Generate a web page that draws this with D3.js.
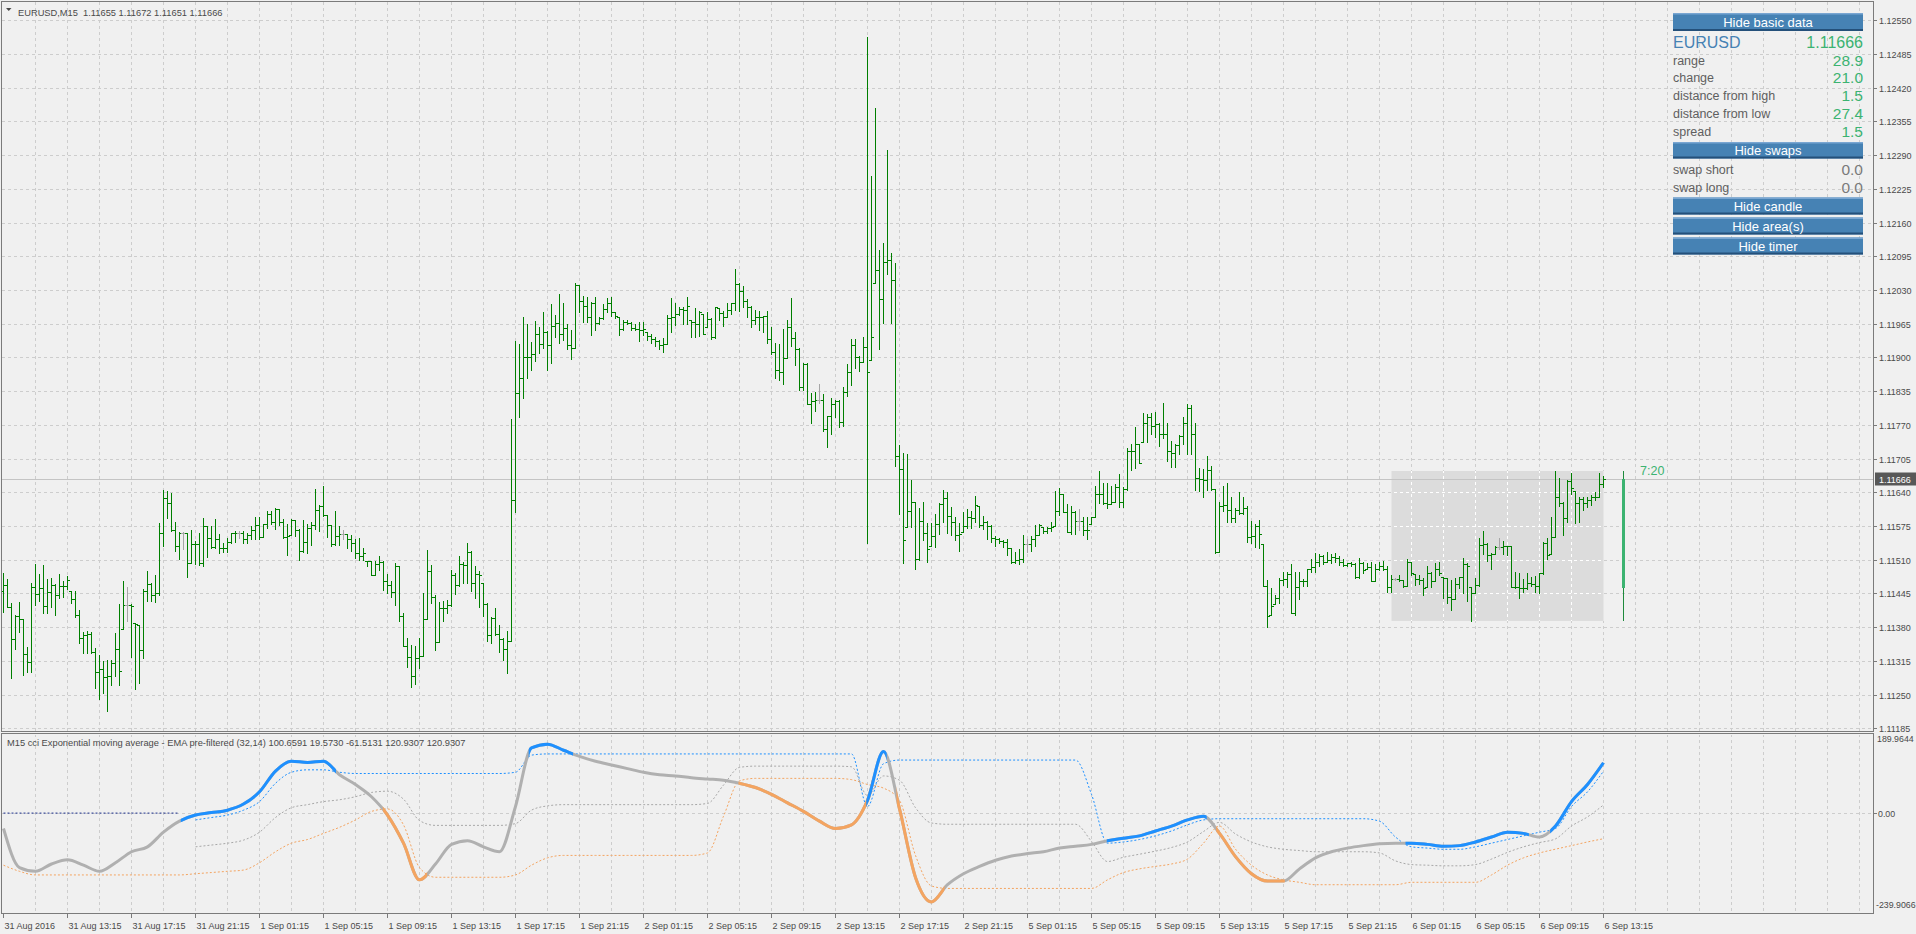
<!DOCTYPE html>
<html><head><meta charset="utf-8">
<script src="https://cdnjs.cloudflare.com/ajax/libs/d3/7.8.5/d3.min.js"></script>
<style>
html,body{margin:0;padding:0;background:#f0f0f0;overflow:hidden}
svg{display:block}
text{font-family:"Liberation Sans",Arial,sans-serif}
</style></head><body>
<svg id="chart" width="1916" height="934"></svg>
<script>
// ---------------- DATA ----------------
const symbolTitle = "EURUSD,M15  1.11655 1.11672 1.11651 1.11666";
const indicatorTitle = "M15 cci Exponential moving average - EMA pre-filtered (32,14) 100.6591 19.5730 -61.5131 120.9307 120.9307";
const open0 = 1.11450;
const high = [
1.11484,1.11472,1.11427,1.11404,1.11428,1.11396,1.11342,1.11465,1.11501,1.11483,
1.11499,1.11472,1.11475,1.11463,1.11483,1.11468,1.11479,1.11450,1.11450,1.11414,
1.11371,1.11372,1.11371,1.11340,1.11327,1.11314,1.11317,1.11317,1.11369,1.11425,
1.11468,1.11457,1.11425,1.11388,1.11385,1.11454,1.11489,1.11465,1.11480,1.11581,
1.11645,1.11642,1.11639,1.11583,1.11564,1.11564,1.11562,1.11568,1.11546,1.11562,
1.11591,1.11575,1.11575,1.11589,1.11560,1.11542,1.11552,1.11562,1.11565,1.11566,
1.11566,1.11562,1.11575,1.11593,1.11593,1.11579,1.11604,1.11604,1.11610,1.11608,
1.11589,1.11578,1.11589,1.11587,1.11570,1.11586,1.11578,1.11583,1.11647,1.11616,
1.11653,1.11597,1.11577,1.11604,1.11575,1.11568,1.11560,1.11557,1.11549,1.11551,
1.11532,1.11508,1.11508,1.11508,1.11517,1.11507,1.11483,1.11468,1.11504,1.11497,
1.11407,1.11359,1.11346,1.11344,1.11359,1.11446,1.11528,1.11499,1.11441,1.11428,
1.11430,1.11432,1.11490,1.11484,1.11517,1.11506,1.11542,1.11526,1.11497,1.11488,
1.11466,1.11426,1.11400,1.11416,1.11385,1.11360,1.11373,1.11781,1.11931,1.11926,
1.11977,1.11964,1.11929,1.11970,1.11959,1.11987,1.11950,1.12003,1.11982,1.12022,
1.12004,1.11965,1.11953,1.12044,1.12039,1.12018,1.12017,1.12006,1.12017,1.11977,
1.12003,1.12014,1.12017,1.11987,1.11977,1.11973,1.11972,1.11969,1.11964,1.11969,
1.11969,1.11949,1.11946,1.11939,1.11933,1.11938,1.11982,1.12014,1.12004,1.11998,
1.11998,1.12016,1.11972,1.11996,1.11989,1.11983,1.11988,1.11975,1.11998,1.11995,
1.11989,1.12005,1.12004,1.12071,1.12043,1.12037,1.12012,1.11999,1.11992,1.11989,
1.11980,1.11989,1.11959,1.11927,1.11926,1.11954,1.11973,1.12014,1.11949,1.11919,
1.11890,1.11890,1.11832,1.11834,1.11849,1.11829,1.11787,1.11821,1.11818,1.11818,
1.11842,1.11887,1.11935,1.11935,1.11902,1.11940,1.12517,1.12250,1.12381,1.12107,
1.12120,1.12300,1.12102,1.12081,1.11732,1.11715,1.11714,1.11664,1.11622,1.11609,
1.11622,1.11580,1.11580,1.11599,1.11619,1.11644,1.11641,1.11612,1.11593,1.11580,
1.11601,1.11607,1.11604,1.11633,1.11613,1.11594,1.11585,1.11576,1.11556,1.11551,
1.11548,1.11549,1.11532,1.11525,1.11531,1.11558,1.11549,1.11556,1.11577,1.11578,
1.11574,1.11574,1.11582,1.11643,1.11649,1.11637,1.11617,1.11613,1.11603,1.11608,
1.11592,1.11593,1.11593,1.11652,1.11681,1.11658,1.11657,1.11652,1.11656,1.11676,
1.11651,1.11726,1.11734,1.11765,1.11734,1.11792,1.11790,1.11792,1.11794,1.11773,
1.11813,1.11773,1.11739,1.11734,1.11750,1.11785,1.11811,1.11808,1.11773,1.11686,
1.11684,1.11710,1.11691,1.11646,1.11622,1.11652,1.11658,1.11630,1.11609,1.11641,
1.11630,1.11614,1.11585,1.11579,1.11586,1.11540,1.11471,1.11455,1.11441,1.11474,
1.11486,1.11487,1.11502,1.11486,1.11487,1.11473,1.11493,1.11511,1.11522,1.11521,
1.11519,1.11525,1.11521,1.11523,1.11517,1.11511,1.11504,1.11505,1.11503,1.11513,
1.11506,1.11503,1.11505,1.11502,1.11506,1.11507,1.11498,1.11480,1.11475,1.11480,
1.11471,1.11511,1.11506,1.11482,1.11480,1.11474,1.11497,1.11486,1.11504,1.11506,
1.11477,1.11474,1.11471,1.11475,1.11477,1.11513,1.11503,1.11458,1.11474,1.11551,
1.11565,1.11543,1.11522,1.11537,1.11552,1.11546,1.11537,1.11536,1.11486,1.11484,
1.11473,1.11484,1.11477,1.11479,1.11484,1.11545,1.11551,1.11592,1.11681,1.11667,
1.11622,1.11664,1.11678,1.11643,1.11631,1.11630,1.11631,1.11635,1.11641,1.11678,
1.11672];
const low = [
1.11410,1.11419,1.11282,1.11338,1.11371,1.11287,1.11293,1.11293,1.11423,1.11430,
1.11408,1.11408,1.11419,1.11403,1.11436,1.11439,1.11454,1.11427,1.11399,1.11349,
1.11330,1.11330,1.11330,1.11262,1.11241,1.11254,1.11219,1.11269,1.11285,1.11269,
1.11377,1.11391,1.11323,1.11260,1.11272,1.11320,1.11430,1.11430,1.11428,1.11441,
1.11536,1.11591,1.11566,1.11526,1.11512,1.11530,1.11476,1.11504,1.11501,1.11499,
1.11497,1.11515,1.11532,1.11532,1.11523,1.11525,1.11525,1.11542,1.11544,1.11551,
1.11542,1.11542,1.11549,1.11549,1.11550,1.11554,1.11571,1.11578,1.11570,1.11577,
1.11552,1.11520,1.11557,1.11555,1.11509,1.11525,1.11523,1.11538,1.11570,1.11565,
1.11594,1.11553,1.11536,1.11539,1.11539,1.11550,1.11533,1.11526,1.11513,1.11510,
1.11510,1.11497,1.11480,1.11480,1.11491,1.11451,1.11446,1.11438,1.11423,1.11391,
1.11343,1.11304,1.11264,1.11270,1.11301,1.11325,1.11396,1.11427,1.11336,1.11352,
1.11391,1.11408,1.11420,1.11443,1.11459,1.11465,1.11465,1.11449,1.11436,1.11418,
1.11402,1.11354,1.11349,1.11365,1.11333,1.11317,1.11291,1.11354,1.11601,1.11786,
1.11822,1.11861,1.11876,1.11894,1.11909,1.11919,1.11876,1.11890,1.11940,1.11928,
1.11933,1.11916,1.11897,1.11919,1.11988,1.11969,1.11969,1.11944,1.11953,1.11964,
1.11974,1.11988,1.11980,1.11976,1.11944,1.11953,1.11964,1.11953,1.11953,1.11931,
1.11944,1.11933,1.11927,1.11922,1.11916,1.11910,1.11925,1.11949,1.11962,1.11982,
1.11964,1.11965,1.11940,1.11940,1.11941,1.11946,1.11958,1.11935,1.11937,1.11972,
1.11961,1.11977,1.11983,1.11991,1.11990,1.11998,1.11977,1.11959,1.11964,1.11953,
1.11948,1.11928,1.11906,1.11860,1.11856,1.11849,1.11898,1.11922,1.11885,1.11838,
1.11838,1.11810,1.11774,1.11797,1.11813,1.11758,1.11728,1.11753,1.11786,1.11766,
1.11768,1.11826,1.11847,1.11880,1.11874,1.11892,1.11543,1.11895,1.12043,1.11917,
1.11967,1.12060,1.11967,1.11691,1.11598,1.11503,1.11574,1.11574,1.11493,1.11509,
1.11548,1.11506,1.11536,1.11535,1.11559,1.11583,1.11561,1.11558,1.11548,1.11527,
1.11564,1.11572,1.11572,1.11583,1.11574,1.11569,1.11550,1.11545,1.11537,1.11543,
1.11535,1.11520,1.11503,1.11503,1.11501,1.11506,1.11525,1.11527,1.11537,1.11558,
1.11561,1.11562,1.11566,1.11575,1.11596,1.11601,1.11564,1.11560,1.11560,1.11567,
1.11558,1.11549,1.11579,1.11592,1.11619,1.11617,1.11609,1.11617,1.11622,1.11612,
1.11612,1.11644,1.11682,1.11686,1.11696,1.11736,1.11737,1.11753,1.11747,1.11730,
1.11744,1.11701,1.11689,1.11689,1.11714,1.11734,1.11714,1.11714,1.11644,1.11642,
1.11631,1.11644,1.11644,1.11523,1.11525,1.11603,1.11583,1.11583,1.11583,1.11599,
1.11599,1.11545,1.11543,1.11535,1.11532,1.11459,1.11380,1.11403,1.11425,1.11426,
1.11461,1.11458,1.11407,1.11403,1.11434,1.11459,1.11459,1.11487,1.11487,1.11497,
1.11502,1.11506,1.11503,1.11506,1.11500,1.11497,1.11497,1.11497,1.11475,1.11475,
1.11485,1.11493,1.11468,1.11468,1.11490,1.11491,1.11448,1.11447,1.11471,1.11468,
1.11458,1.11459,1.11480,1.11461,1.11464,1.11441,1.11458,1.11458,1.11468,1.11480,
1.11437,1.11426,1.11414,1.11434,1.11456,1.11445,1.11431,1.11392,1.11445,1.11460,
1.11521,1.11508,1.11493,1.11521,1.11530,1.11521,1.11519,1.11457,1.11455,1.11437,
1.11448,1.11454,1.11459,1.11448,1.11445,1.11482,1.11511,1.11521,1.11553,1.11613,
1.11558,1.11583,1.11637,1.11581,1.11583,1.11606,1.11612,1.11615,1.11625,1.11631,
1.11651];
const close = [
1.11462,1.11419,1.11358,1.11402,1.11396,1.11328,1.11313,1.11457,1.11443,1.11455,
1.11420,1.11448,1.11461,1.11441,1.11459,1.11460,1.11470,1.11434,1.11404,1.11359,
1.11364,1.11366,1.11333,1.11293,1.11300,1.11284,1.11285,1.11311,1.11338,1.11295,
1.11423,1.11423,1.11420,1.11386,1.11335,1.11450,1.11464,1.11441,1.11445,1.11562,
1.11629,1.11620,1.11568,1.11536,1.11562,1.11562,1.11504,1.11541,1.11540,1.11504,
1.11575,1.11552,1.11535,1.11549,1.11532,1.11533,1.11544,1.11561,1.11562,1.11562,
1.11549,1.11557,1.11568,1.11577,1.11554,1.11579,1.11599,1.11583,1.11607,1.11582,
1.11554,1.11555,1.11587,1.11568,1.11526,1.11544,1.11571,1.11577,1.11605,1.11613,
1.11597,1.11577,1.11541,1.11555,1.11560,1.11560,1.11549,1.11542,1.11523,1.11517,
1.11523,1.11507,1.11481,1.11501,1.11506,1.11468,1.11462,1.11448,1.11497,1.11402,
1.11344,1.11323,1.11285,1.11320,1.11325,1.11396,1.11488,1.11439,1.11351,1.11417,
1.11416,1.11422,1.11481,1.11462,1.11502,1.11500,1.11525,1.11465,1.11483,1.11480,
1.11425,1.11365,1.11397,1.11366,1.11358,1.11338,1.11354,1.11626,1.11831,1.11860,
1.11900,1.11901,1.11906,1.11946,1.11925,1.11948,1.11924,1.11960,1.11967,1.11945,
1.11956,1.11924,1.11919,1.12039,1.12009,1.11999,1.11978,1.12005,1.11967,1.11975,
1.11994,1.12004,1.11988,1.11980,1.11955,1.11969,1.11967,1.11956,1.11954,1.11953,
1.11954,1.11942,1.11935,1.11931,1.11924,1.11925,1.11975,1.11978,1.11983,1.11993,
1.11992,1.11999,1.11969,1.11964,1.11988,1.11946,1.11974,1.11939,1.11997,1.11986,
1.11978,1.11991,1.12004,1.12041,1.12028,1.12009,1.11998,1.11973,1.11977,1.11978,
1.11979,1.11935,1.11911,1.11876,1.11871,1.11899,1.11959,1.11937,1.11917,1.11843,
1.11888,1.11811,1.11816,1.11818,1.11818,1.11762,1.11787,1.11811,1.11816,1.11776,
1.11834,1.11872,1.11924,1.11900,1.11892,1.11920,1.11872,1.11939,1.12068,1.12012,
1.12083,1.12088,1.12050,1.11710,1.11684,1.11548,1.11604,1.11622,1.11511,1.11585,
1.11562,1.11530,1.11556,1.11578,1.11618,1.11628,1.11594,1.11582,1.11558,1.11559,
1.11575,1.11592,1.11591,1.11615,1.11577,1.11583,1.11575,1.11552,1.11550,1.11547,
1.11545,1.11532,1.11506,1.11509,1.11511,1.11541,1.11541,1.11549,1.11558,1.11576,
1.11566,1.11572,1.11574,1.11603,1.11637,1.11601,1.11564,1.11601,1.11585,1.11585,
1.11567,1.11568,1.11592,1.11637,1.11636,1.11619,1.11617,1.11622,1.11651,1.11622,
1.11646,1.11719,1.11720,1.11734,1.11696,1.11773,1.11786,1.11768,1.11771,1.11752,
1.11753,1.11719,1.11716,1.11731,1.11748,1.11773,1.11802,1.11752,1.11667,1.11666,
1.11664,1.11683,1.11646,1.11525,1.11614,1.11615,1.11606,1.11590,1.11605,1.11600,
1.11609,1.11554,1.11555,1.11575,1.11560,1.11460,1.11401,1.11421,1.11436,1.11471,
1.11472,1.11482,1.11407,1.11457,1.11469,1.11468,1.11493,1.11495,1.11506,1.11518,
1.11506,1.11509,1.11516,1.11513,1.11506,1.11500,1.11503,1.11502,1.11476,1.11504,
1.11490,1.11495,1.11469,1.11493,1.11497,1.11493,1.11457,1.11473,1.11473,1.11471,
1.11460,1.11505,1.11485,1.11473,1.11471,1.11456,1.11484,1.11469,1.11493,1.11484,
1.11474,1.11439,1.11434,1.11464,1.11476,1.11502,1.11498,1.11445,1.11461,1.11538,
1.11540,1.11519,1.11521,1.11535,1.11535,1.11537,1.11536,1.11458,1.11457,1.11455,
1.11456,1.11466,1.11464,1.11460,1.11484,1.11542,1.11520,1.11554,1.11630,1.11620,
1.11590,1.11662,1.11648,1.11620,1.11627,1.11620,1.11626,1.11630,1.11631,1.11655,
1.11666];

const timeLabels = ["31 Aug 2016","31 Aug 13:15","31 Aug 17:15","31 Aug 21:15","1 Sep 01:15","1 Sep 05:15","1 Sep 09:15","1 Sep 13:15","1 Sep 17:15","1 Sep 21:15","2 Sep 01:15","2 Sep 05:15","2 Sep 09:15","2 Sep 13:15","2 Sep 17:15","2 Sep 21:15","5 Sep 01:15","5 Sep 05:15","5 Sep 09:15","5 Sep 13:15","5 Sep 17:15","5 Sep 21:15","6 Sep 01:15","6 Sep 05:15","6 Sep 09:15","6 Sep 13:15"];
const timeLabelBars = [0,16,32,48,64,80,96,112,128,144,160,176,192,208,224,240,256,272,288,304,320,336,352,368,384,400];
const priceTicks = ["1.12550","1.12485","1.12420","1.12355","1.12290","1.12225","1.12160","1.12095","1.12030","1.11965","1.11900","1.11835","1.11770","1.11705","1.11640","1.11575","1.11510","1.11445","1.11380","1.11315","1.11250","1.11185"];
const lastPrice = 1.11666;

// daily candle, day area, timer
const dayOHLC = {open:1.11456, high:1.11681, low:1.11392, close:1.11666};
const dayStartBar = 347;
const timerText = "7:20";

// info panel
const panelSymbol = "EURUSD", panelPrice = "1.11666";
const panelLabels = ["range","change","distance from high","distance from low","spread"];
const panelValues = ["28.9","21.0","1.5","27.4","1.5"];
const swapLabels = ["swap short","swap long"];
const swapValues = ["0.0","0.0"];
const buttonLabels = ["Hide basic data","Hide swaps","Hide candle","Hide area(s)","Hide timer"];

// indicator (sampled every 4 bars)
const indMax = 189.9644, indMin = -239.9066;
const indTicks = ["189.9644","0.00","-239.9066"];
const indBars = d3.range(0, 401, 4);
const cci = [-37.0,-130.9,-139.8,-122.2,-111.9,-125.1,-139.8,-119.2,-92.8,-81.1,-45.8,-19.4,
 -4.7,1.2,7.0,21.7,51.1,101.0,124.5,121.6,124.5,92.2,68.7,39.3,-4.7,-72.2,-160.3,-122.2,-75.1,-66.3,-81.1,-92.8,
 16.0,156.8,165.6,150.9,136.2,124.5,115.7,106.9,98.1,92.2,89.3,84.9,81.9,79.0,71.6,61.4,45.2,24.7,4.1,-19.4,-37.0,-28.2,
 30.5,148.0,10.0,-154.4,-213.2,-172.0,-145.6,-128.0,-113.3,-103.1,-97.2,-92.8,-84.0,-79.6,-75.1,-66.3,-60.5,-54.6,-42.9,-31.1,-16.4,-7.6,
 -48.7,-104.5,-145.6,-163.2,-163.2,-133.9,-107.5,-92.8,-84.0,-78.1,-73.7,-72.2,-72.2,-75.1,-79.6,-78.1,-69.3,-57.5,-45.8,-48.7,-57.5,-31.1,27.6,68.7,120.9307];
const upperLevel = [0,0,0,0,0,0,0,0,0,0,0,0,
 -16.4,-10.6,-4.7,7.0,27.6,71.6,98.1,103.9,103.9,98.1,
 95.1,95.1,95.1,95.1,95.1,95.1,95.1,95.1,95.1,95.1,
 98.1,139.2,
 142.1,142.1,142.1,142.1,142.1,142.1,142.1,142.1,142.1,142.1,142.1,142.1,142.1,142.1,142.1,142.1,142.1,142.1,142.1,142.1,
 15.9,118.6,
 127.4,127.4,127.4,127.4,127.4,127.4,127.4,127.4,127.4,127.4,127.4,127.4,
 45.2,-72.2,-69.3,-63.4,-54.6,-42.9,-28.2,-16.4,
 -13.5,-13.5,-13.5,-13.5,-13.5,-13.5,-13.5,-13.5,-13.5,-13.5,
 -19.4,-57.5,-81.0,-84.0,-86.9,-86.9,-81.0,-72.2,-63.4,-54.6,-45.8,-37.0,15.9,51.1,100.6591];
const lowerLevel = [-125.1,-139.8,-148.5,-148.5,-148.5,-148.5,-148.5,-148.5,-148.5,-148.5,-148.5,-148.5,
 -145.6,-142.7,-139.8,-136.8,-119.2,-92.8,-72.2,-63.4,-48.7,-34.1,-16.4,4.1,10.0,-28.2,-130.9,
 -154.1,-154.1,-154.1,-154.1,-154.1,
 -148.5,-125.1,-107.5,
 -101.6,-101.6,-101.6,-101.6,-101.6,-101.6,-101.6,-101.6,-101.6,
 -95.7,-7.6,77.5,
 83.4,83.4,83.4,83.4,83.4,83.4,
 80.4,68.7,60.0,30.5,-101.6,-175.0,
 -180.9,-180.9,-180.9,-180.9,-180.9,-180.9,-180.9,-180.9,-180.9,-180.9,
 -160.3,-142.7,-133.9,-128.0,-122.2,-110.4,-72.2,-31.1,-86.6,-125.1,-148.5,-160.3,-166.2,
 -172.0,-172.0,-172.0,-172.0,-172.0,-172.0,
 -166.2,-166.2,-166.2,-166.2,-166.2,
 -148.5,-125.1,-107.5,-95.7,-86.6,-78.1,-69.3,-61.5131];
const middleLevel = [null,null,null,null,null,null,null,null,null,null,null,null,
 -81.0,-76.7,-72.3,-64.9,-45.8,-10.6,13.0,20.3,27.6,32.0,39.4,49.6,52.6,33.5,-17.9,-29.5,-29.5,-29.5,-29.5,-29.5,-25.2,7.1,17.3,
 20.3,20.3,20.3,20.3,20.3,20.3,20.3,20.3,20.3,
 23.2,67.3,109.8,
 112.8,112.8,112.8,112.8,112.8,112.8,
 111.3,42.3,89.3,79.0,12.9,-23.8,
 -26.8,-26.8,-26.8,-26.8,-26.8,-26.8,-26.8,-26.8,-26.8,
 -67.9,-116.3,-106.0,-98.7,-91.3,-82.6,-69.3,-44.3,-22.3,-50.1,-69.3,-81.0,-86.9,-89.9,
 -92.8,-92.8,-92.8,-92.8,
 -95.7,-114.8,-123.6,-125.1,-126.6,-126.6,-123.6,-110.4,-94.3,-81.1,-70.8,-61.8,-31.1,-9.1,19.573];
const levelsStart = 12; // first sample where the floating levels are formed

// ---------------- DRAW ----------------
const svg = d3.select('#chart');
const PR = 1873, MT = 1, MB = 731, IT = 734, IB = 913;
const x = d3.scaleLinear().domain([0, 400]).range([3.5, 1603.5]);
const y = d3.scaleLinear().domain([1.11185, 1.12550]).range([728.3, 20.2]);
const yi = d3.scaleLinear().domain([indMin, indMax]).range([IB, IT]);
const GRID = '#cdcdcd', AX = '#4a4a4a', FRAME = '#7b7b7b';

svg.append('rect').attr('width',1916).attr('height',934).attr('fill','#f0f0f0');
const defs = svg.append('defs');
defs.append('clipPath').attr('id','clipMain').append('rect').attr('x',2).attr('y',2).attr('width',PR-2).attr('height',MB-2);
defs.append('clipPath').attr('id','clipInd').append('rect').attr('x',2).attr('y',IT+1).attr('width',PR-2).attr('height',IB-IT-1);
const dayX0 = x(dayStartBar), dayX1 = x(400);
defs.append('clipPath').attr('id','clipDay').append('rect').attr('x',dayX0).attr('y',y(dayOHLC.high)).attr('width',dayX1-dayX0).attr('height',y(dayOHLC.low)-y(dayOHLC.high));

// day area rectangle (background)
svg.append('rect').attr('x',dayX0).attr('y',y(dayOHLC.high)).attr('width',dayX1-dayX0)
  .attr('height',y(dayOHLC.low)-y(dayOHLC.high)).attr('fill','#dcdcdc');

const gridBars = d3.range(8, 470, 8).filter(i => x(i) < PR);
function drawGrid(g, color){
  g.selectAll('line.v').data(gridBars).join('line').attr('class','v')
    .attr('x1',d=>Math.round(x(d)-0.5)+0.5).attr('x2',d=>Math.round(x(d)-0.5)+0.5)
    .attr('y1',MT+1).attr('y2',MB).attr('stroke',color).attr('stroke-dasharray','3,3');
  g.selectAll('line.h').data(priceTicks).join('line').attr('class','h')
    .attr('x1',2).attr('x2',PR).attr('y1',d=>Math.round(y(+d))+0.5).attr('y2',d=>Math.round(y(+d))+0.5)
    .attr('stroke',color).attr('stroke-dasharray','3,3');
}
const gMain = svg.append('g').attr('clip-path','url(#clipMain)').attr('shape-rendering','crispEdges');
drawGrid(gMain, GRID);
drawGrid(svg.append('g').attr('clip-path','url(#clipDay)').attr('shape-rendering','crispEdges'), '#ffffff');

// current price line
svg.append('line').attr('x1',2).attr('x2',PR).attr('y1',Math.round(y(lastPrice))+0.5).attr('y2',Math.round(y(lastPrice))+0.5)
  .attr('stroke','#c4c4c4').attr('shape-rendering','crispEdges');

// OHLC bars
const gBars = svg.append('g').attr('clip-path','url(#clipMain)').attr('shape-rendering','crispEdges');
close.forEach((c, i) => {
  const o = i === 0 ? open0 : close[i-1];
  const h = high[i], l = low[i];
  const col = Math.abs(o - c) < 5e-6 ? '#a6a6a6' : '#007f00';
  const cx = Math.round(x(i) - 0.5);
  const yh = Math.round(y(h)), yl = Math.round(y(l));
  gBars.append('rect').attr('x',cx).attr('y',yh).attr('width',1).attr('height',Math.max(1,yl-yh+1)).attr('fill',col);
  const yo = Math.min(yl, Math.max(yh, Math.round(y(o))));
  const yc = Math.min(yl, Math.max(yh, Math.round(y(c))));
  gBars.append('rect').attr('x',cx-2).attr('y',yo).attr('width',2).attr('height',1).attr('fill',col);
  gBars.append('rect').attr('x',cx+1).attr('y',yc).attr('width',2).attr('height',1).attr('fill',col);
});

// daily candle
const candleBar = 405;
const ccx = Math.round(x(candleBar) - 0.5);
svg.append('rect').attr('x',ccx).attr('y',Math.round(y(dayOHLC.high))).attr('width',1)
  .attr('height',Math.round(y(dayOHLC.low))-Math.round(y(dayOHLC.high))).attr('fill','#1e8a3c').attr('shape-rendering','crispEdges');
svg.append('rect').attr('x',ccx-1).attr('y',Math.round(y(dayOHLC.close))).attr('width',3)
  .attr('height',Math.round(y(dayOHLC.open))-Math.round(y(dayOHLC.close))).attr('fill','#3cb371').attr('shape-rendering','crispEdges');
svg.append('text').attr('x',ccx+17).attr('y',y(dayOHLC.high)+4.5).attr('font-size',12.5).attr('fill','#3cb371').text(timerText);

// frames
const frame = svg.append('g').attr('fill','none').attr('stroke',FRAME).attr('shape-rendering','crispEdges');
frame.append('rect').attr('x',1.5).attr('y',1.5).attr('width',PR-1.5).attr('height',MB-1.5);
frame.append('rect').attr('x',1.5).attr('y',IT-0.5).attr('width',PR-1.5).attr('height',IB-IT+0.5);

// price axis labels
const pAx = svg.append('g').attr('font-size',9).attr('fill',AX);
priceTicks.forEach(t => {
  const yy = Math.round(y(+t)) + 0.5;
  pAx.append('line').attr('x1',PR).attr('x2',PR+4).attr('y1',yy).attr('y2',yy).attr('stroke',FRAME).attr('shape-rendering','crispEdges');
  pAx.append('text').attr('x',PR+6).attr('y',yy+3.3).text(t);
});
// current price box
const lpy = Math.round(y(lastPrice)) + 0.5;
svg.append('rect').attr('x',PR+2).attr('y',lpy-7).attr('width',1916-PR-2).attr('height',13).attr('fill','#585858');
svg.append('text').attr('x',PR+6).attr('y',lpy+3.3).attr('font-size',9).attr('fill','#ffffff').text(lastPrice.toFixed(5));

// header
svg.append('path').attr('d','M6,8 L11.5,8 L8.75,11 Z').attr('fill','#4a4a4a');
svg.append('text').attr('x',18).attr('y',15.5).attr('font-size',9.3).attr('fill',AX).style('white-space','pre').text(symbolTitle);

// ---------- indicator window ----------
const gInd = svg.append('g').attr('clip-path','url(#clipInd)');
const gIndGrid = gInd.append('g').attr('shape-rendering','crispEdges');
gIndGrid.selectAll('line.v').data(gridBars).join('line')
  .attr('x1',d=>Math.round(x(d)-0.5)+0.5).attr('x2',d=>Math.round(x(d)-0.5)+0.5)
  .attr('y1',IT).attr('y2',IB).attr('stroke',GRID).attr('stroke-dasharray','3,3');
const y0i = Math.round(yi(0)) + 0.5;
gIndGrid.append('line').attr('x1',2).attr('x2',PR).attr('y1',y0i).attr('y2',y0i).attr('stroke',GRID).attr('stroke-dasharray','3,3');

const mk = arr => arr.map((v,k) => ({i: indBars[k], v}));
const lineGen = d3.line().defined(d => d.v != null).x(d => x(d.i)).y(d => yi(d.v)).curve(d3.curveMonotoneX);
const up = mk(upperLevel), mid = mk(middleLevel), lo = mk(lowerLevel), cc = mk(cci);
gInd.append('path').attr('d', lineGen(up.slice(0, levelsStart))).attr('fill','none').attr('stroke','#1c2f8c').attr('stroke-dasharray','2,2');
gInd.append('path').attr('d', lineGen(up.slice(levelsStart))).attr('fill','none').attr('stroke','#1e90ff').attr('stroke-dasharray','2,2');
gInd.append('path').attr('d', lineGen(mid)).attr('fill','none').attr('stroke','#a8a8a8').attr('stroke-dasharray','2,2');
gInd.append('path').attr('d', lineGen(lo)).attr('fill','none').attr('stroke','#f4a460').attr('stroke-dasharray','2,2');

// CCI: gray line, coloured where it is beyond the floating levels
const ccPath = lineGen(cc);
gInd.append('path').attr('d', ccPath).attr('fill','none').attr('stroke','#b0b0b0').attr('stroke-width',3).attr('stroke-linejoin','round');
function intervals(diffs){
  const res = []; let start = null;
  for (let k = 0; k < diffs.length; k++){
    const d = diffs[k];
    if (d > 0 && start === null){
      if (k === 0) start = x(indBars[0]) - 3;
      else { const d0 = diffs[k-1], t = d0/(d0-d); start = x(indBars[k-1] + t*(indBars[k]-indBars[k-1])); }
    } else if (d <= 0 && start !== null){
      const d0 = diffs[k-1], t = d0/(d0-d);
      res.push([start, x(indBars[k-1] + t*(indBars[k]-indBars[k-1]))]); start = null;
    }
  }
  if (start !== null) res.push([start, x(indBars[indBars.length-1]) + 4]);
  return res;
}
const upDiff = cci.map((v,k) => k >= levelsStart ? v - upperLevel[k] : -1);
const dnDiff = cci.map((v,k) => lowerLevel[k] - v);
let clipN = 0;
[[dnDiff,'#f4a460'],[upDiff,'#1e90ff']].forEach(([diffs,col]) => {
  intervals(diffs).forEach(([a,b]) => {
    const id = 'cc' + (clipN++);
    defs.append('clipPath').attr('id',id).append('rect').attr('x',a).attr('y',IT).attr('width',Math.max(0,b-a)).attr('height',IB-IT);
    gInd.append('g').attr('clip-path',`url(#${id})`).append('path').attr('d', ccPath).attr('fill','none')
      .attr('stroke',col).attr('stroke-width',3).attr('stroke-linejoin','round');
  });
});

// indicator labels
svg.append('text').attr('x',7).attr('y',745.5).attr('font-size',9.3).attr('fill',AX).text(indicatorTitle);
const iAx = svg.append('g').attr('font-size',8.8).attr('fill',AX);
iAx.append('text').attr('x',PR+4).attr('y',IT+8).text(indTicks[0]);
iAx.append('text').attr('x',PR+5).attr('y',y0i+3.3).text(indTicks[1]);
iAx.append('text').attr('x',PR+3).attr('y',IB-5).text(indTicks[2]);
iAx.append('line').attr('x1',PR).attr('x2',PR+4).attr('y1',y0i).attr('y2',y0i).attr('stroke',FRAME).attr('shape-rendering','crispEdges');

// time axis
const tAx = svg.append('g').attr('font-size',9).attr('fill',AX);
timeLabels.forEach((t,k) => {
  const xx = Math.round(x(timeLabelBars[k]) - 0.5) + 0.5;
  tAx.append('line').attr('x1',xx).attr('x2',xx).attr('y1',IB).attr('y2',IB+5).attr('stroke',FRAME).attr('shape-rendering','crispEdges');
  tAx.append('text').attr('x',xx+1).attr('y',IB+16).text(t);
});

// ---------- info panel ----------
const panel = svg.append('g');
const BX0 = 1673, BX1 = 1863;
const btnY = [[13,31],[142,158.5],[197.5,214.5],[217.5,234.5],[237.5,254.5]];
buttonLabels.forEach((lab,k) => {
  const [a,b] = btnY[k];
  panel.append('rect').attr('x',BX0).attr('y',a).attr('width',BX1-BX0).attr('height',b-a).attr('fill','#4682b4');
  panel.append('rect').attr('x',BX0).attr('y',a).attr('width',BX1-BX0).attr('height',1.5).attr('fill','#79a6d2');
  panel.append('rect').attr('x',BX0).attr('y',b-2).attr('width',BX1-BX0).attr('height',2).attr('fill','#24507a');
  panel.append('text').attr('x',(BX0+BX1)/2).attr('y',(a+b)/2+4.6).attr('text-anchor','middle').attr('font-size',13).attr('fill','#ffffff').text(lab);
});
panel.append('text').attr('x',BX0).attr('y',47.5).attr('font-size',16).attr('fill','#4682b4').text(panelSymbol);
panel.append('text').attr('x',BX1).attr('y',47.5).attr('font-size',16).attr('text-anchor','end').attr('fill','#3cb371').text(panelPrice);
const rowY = [64.5,82,100,117.5,135.5];
panelLabels.forEach((lab,k) => {
  panel.append('text').attr('x',BX0).attr('y',rowY[k]).attr('font-size',12.5).attr('fill','#5f5f5f').text(lab);
  panel.append('text').attr('x',BX1).attr('y',rowY[k]+1).attr('font-size',15.5).attr('text-anchor','end').attr('fill','#3cb371').text(panelValues[k]);
});
const swapY = [173.5,192];
swapLabels.forEach((lab,k) => {
  panel.append('text').attr('x',BX0).attr('y',swapY[k]).attr('font-size',12.5).attr('fill','#5f5f5f').text(lab);
  panel.append('text').attr('x',BX1).attr('y',swapY[k]+1).attr('font-size',15.5).attr('text-anchor','end').attr('fill','#7a7a7a').text(swapValues[k]);
});
</script>
</body></html>
